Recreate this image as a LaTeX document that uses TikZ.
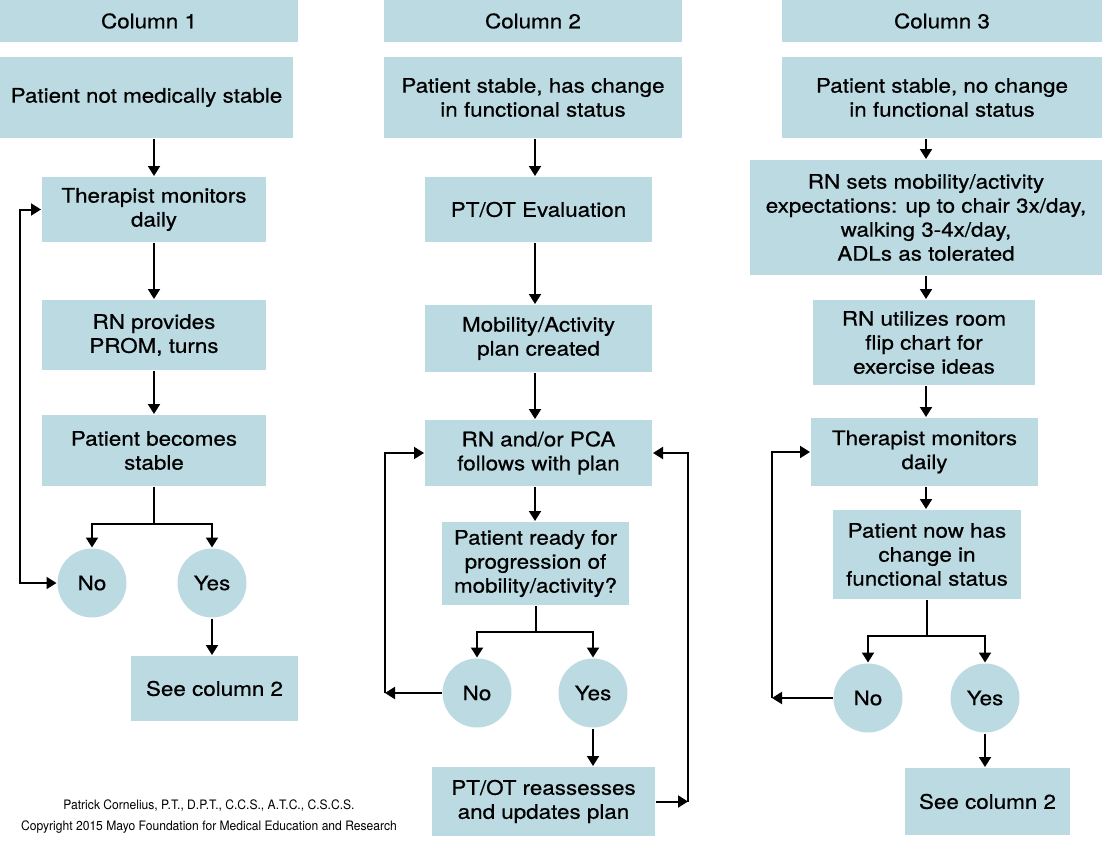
\documentclass[tikz,border=0pt]{standalone}
\usepackage{fontspec}
\setmainfont{TeX Gyre Heros}[FakeStretch=1.12, FakeBold=0.6]
\newfontfamily\notefont[FakeStretch=0.93]{TeX Gyre Heros}
\usetikzlibrary{arrows.meta}
\definecolor{boxblue}{RGB}{188,218,226}
\begin{document}
\begin{tikzpicture}[x=1pt, y=-1pt, line width=2pt, >={Triangle[length=10pt,width=12pt]},
	font=\fontsize{20}{24}\selectfont,
	box/.style={fill=boxblue, align=center, inner sep=0pt},
	ans/.style={circle, fill=boxblue, minimum size=69pt, inner sep=0pt}]
	\useasboundingbox (0,0) rectangle (1102,840);
	% column 1
	\node[box, minimum width=298, minimum height=42] (h1) at (149,21) {Column 1};
	\node[box, minimum width=293, minimum height=81] (a1) at (146.5,97.5) {Patient not medically stable};
	\node[box, minimum width=224, minimum height=65] (b1) at (154,209.5) {Therapist monitors\\daily};
	\node[box, minimum width=224, minimum height=70] (c1) at (154,335) {RN provides\\PROM, turns};
	\node[box, minimum width=224, minimum height=71] (d1) at (154,450.5) {Patient becomes\\stable};
	\node[ans] (no1) at (92,583) {No};
	\node[ans] (yes1) at (212,583) {Yes};
	\node[box, minimum width=167, minimum height=65] (e1) at (214.5,688.5) {See column 2};
	% column 2
	\node[box, minimum width=298, minimum height=42] (h2) at (533,21) {Column 2};
	\node[box, minimum width=298, minimum height=81] (a2) at (533,97.5) {Patient stable, has change\\in functional status};
	\node[box, minimum width=227, minimum height=65] (b2) at (538.5,209.5) {PT/OT Evaluation};
	\node[box, minimum width=227, minimum height=67] (c2) at (538.5,338.5) {Mobility/Activity\\plan created};
	\node[box, minimum width=227, minimum height=66] (d2) at (538.5,453) {RN and/or PCA\\follows with plan};
	\node[box, minimum width=187, minimum height=83] (q2) at (535.5,563.5) {Patient ready for\\progression of\\mobility/activity?};
	\node[ans] (no2) at (477,693) {No};
	\node[ans] (yes2) at (593,693) {Yes};
	\node[box, minimum width=223, minimum height=69] (f2) at (543.5,801.5) {PT/OT reassesses\\and updates plan};
	% column 3
	\node[box, minimum width=320, minimum height=42] (h3) at (942,21) {Column 3};
	\node[box, minimum width=320, minimum height=81] (a3) at (942,97.5) {Patient stable, no change\\in functional status};
	\node[box, minimum width=352, minimum height=115] (b3) at (926,217.5) {RN sets mobility/activity\\expectations: up to chair 3x/day,\\walking 3-4x/day,\\ADLs as tolerated};
	\node[box, minimum width=222, minimum height=85] (c3) at (924,342.5) {RN utilizes room\\flip chart for\\exercise ideas};
	\node[box, minimum width=227, minimum height=68] (d3) at (924.5,452) {Therapist monitors\\daily};
	\node[box, minimum width=188, minimum height=89] (q3) at (927,554.5) {Patient now has\\change in\\functional status};
	\node[ans] (no3) at (868,698) {No};
	\node[ans] (yes3) at (985,698) {Yes};
	\node[box, minimum width=165, minimum height=67] (e3) at (987.5,801.5) {See column 2};
	% footer
	\node[align=center, font=\notefont\fontsize{13}{21}\selectfont] (note) at (209,817)
		{Patrick Cornelius, P.T., D.P.T., C.C.S., A.T.C., C.S.C.S.\\Copyright 2015 Mayo Foundation for Medical Education and Research};
	\path
	(d1.south) ++(0,37) coordinate (j1)
	(q2.south) ++(0,26) coordinate (j2)
	(q3.south) ++(0,36) coordinate (j3)
	(20,209.5) coordinate (l1)
	(385,693) coordinate (l2)
	(688,801.5) coordinate (r2)
	(772,698) coordinate (l3)
	;
	% arrows column 1
	\draw[->] (a1.south -| b1) -- (b1);
	\draw[->] (b1) -- (c1);
	\draw[->] (c1) -- (d1);
	\draw (d1.south) -- (j1);
	\draw[->] (j1) -| (no1);
	\draw[->] (j1) -| (yes1);
	\draw[->] (yes1) -- (yes1 |- e1.north);
	\draw[<->] (b1.west) -- (l1) |- (no1);
	% arrows column 2
	\draw[->] (a2.south -| 535,0) -- (535,0 |- b2.north);
	\draw[->] (b2.south -| 535,0) -- (535,0 |- c2.north);
	\draw[->] (c2.south -| 535,0) -- (535,0 |- d2.north);
	\draw[->] (d2.south -| 535,0) -- (535,0 |- q2.north);
	\draw (q2.south) -- (j2);
	\draw[->] (j2) -| (no2);
	\draw[->] (j2) -| (yes2);
	\draw[->] (yes2) -- (yes2 |- f2.north);
	\draw[->] (no2) -- (l2);
	\draw[->] (l2) |- (d2);
	\draw[->] (f2) -- (r2);
	\draw[->] (r2) |- (d2);
	% arrows column 3
	\draw[->] (a3.south -| b3) -- (b3);
	\draw[->] (b3) -- (b3 |- c3.north);
	\draw[->] (c3.south -| b3) -- (b3 |- d3.north);
	\draw[->] (d3.south -| b3) -- (b3 |- q3.north);
	\draw (q3.south) -- (j3);
	\draw[->] (j3) -| (no3);
	\draw[->] (j3) -| (yes3);
	\draw[->] (yes3) -- (yes3 |- e3.north);
	\draw[->] (no3) -- (l3);
	\draw[->] (l3) |- (d3);
\end{tikzpicture}
\end{document}
